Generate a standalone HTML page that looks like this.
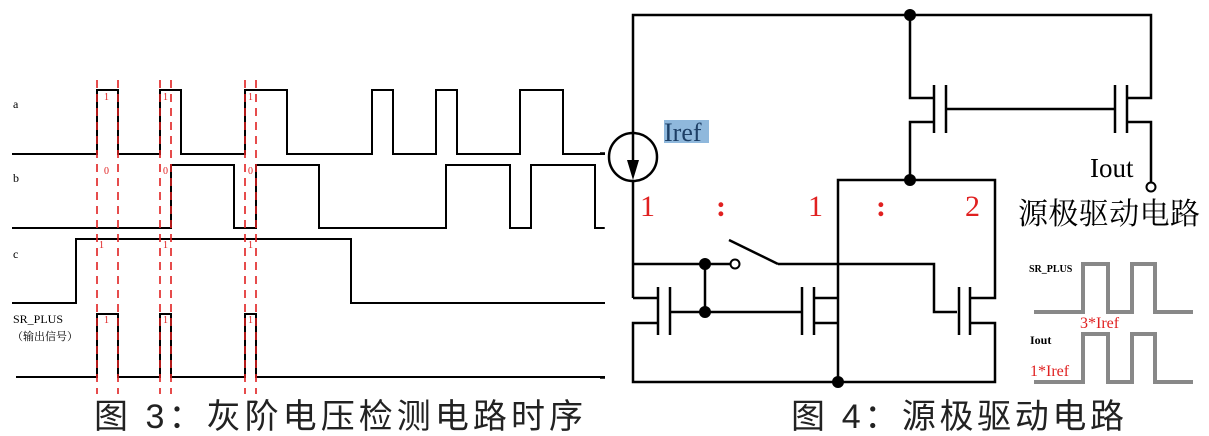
<!DOCTYPE html>
<html><head><meta charset="utf-8"><style>
html,body{margin:0;padding:0;background:#fff;width:1209px;height:436px;overflow:hidden}
svg{display:block}
.s{font-family:"Liberation Serif","Noto Serif CJK SC",serif}
.k{font-family:"Liberation Sans","Noto Sans CJK SC",sans-serif}
</style></head><body>
<svg width="1209" height="436" viewBox="0 0 1209 436" xmlns="http://www.w3.org/2000/svg">
<g fill="none" stroke="#000" stroke-width="2">
<polyline points="12,154 97,154 97,90 118,90 118,154 160,154 160,90 181,90 181,154 245,154 245,90 287,90 287,154 372,154 372,90 393,90 393,154 436,154 436,90 457,90 457,154 520,154 520,90 563,90 563,154 605,154"/>
<polyline points="12,228 171,228 171,165 234,165 234,228 256,228 256,165 319,165 319,228 446,228 446,165 510,165 510,228 531,228 531,165 595,165 595,228 604,228"/>
<polyline points="12,303 76,303 76,239 351,239 351,303 605,303"/>
<polyline points="16,377 97,377 97,314 118,314 118,377 160,377 160,314 171,314 171,377 245,377 245,314 256,314 256,377 605,377"/>
</g>
<g stroke="#e02020" stroke-width="1.6" stroke-dasharray="8,6">
<line x1="97" y1="80" x2="97" y2="394"/><line x1="118" y1="80" x2="118" y2="394"/>
<line x1="160" y1="80" x2="160" y2="394"/><line x1="171" y1="80" x2="171" y2="394"/>
<line x1="245" y1="80" x2="245" y2="394"/><line x1="256" y1="80" x2="256" y2="394"/>
</g>
<g class="s" fill="#e02020" font-size="10">
<text x="104" y="100">1</text><text x="163" y="100">1</text><text x="248" y="100">1</text>
<text x="104" y="174">0</text><text x="163" y="174">0</text><text x="248" y="174">0</text>
<text x="99" y="248">1</text><text x="163" y="248">1</text><text x="248" y="248">1</text>
<text x="104" y="323">1</text><text x="163" y="323">1</text><text x="248" y="323">1</text>
</g>
<g class="s" font-size="12" fill="#000">
<text x="13" y="108">a</text><text x="13" y="182">b</text><text x="13" y="258">c</text>
<text x="13" y="323">SR_PLUS</text><text x="12" y="340" font-size="11">（输出信号）</text>
</g>
<g fill="none" stroke="#000" stroke-width="2.5">
<polyline points="633,298 633,15 1151,15 1151,98 1127,98"/>
<polyline points="1127,122 1151,122 1151,182"/>
<polyline points="910,15 910,98 934,98"/>
<polyline points="934,122 910,122 910,180"/>
<line x1="934" y1="85" x2="934" y2="133"/><line x1="946" y1="85" x2="946" y2="133"/>
<line x1="1115" y1="85" x2="1115" y2="133"/><line x1="1127" y1="85" x2="1127" y2="133"/>
<line x1="946" y1="109" x2="1115" y2="109"/>
<polyline points="838,382 838,180 995,180 995,298 970,298"/>
<polyline points="970,323 995,323 995,382 633,382 633,323 657,323"/>
<line x1="633" y1="298" x2="657" y2="298"/>
<line x1="658" y1="287" x2="658" y2="335"/><line x1="670" y1="287" x2="670" y2="335"/>
<line x1="802" y1="287" x2="802" y2="335"/><line x1="814" y1="287" x2="814" y2="335"/>
<line x1="959" y1="287" x2="959" y2="335"/><line x1="970" y1="287" x2="970" y2="335"/>
<line x1="814" y1="298" x2="838" y2="298"/><line x1="814" y1="323" x2="838" y2="323"/>
<line x1="670" y1="312" x2="801" y2="312"/>
<line x1="705" y1="264" x2="705" y2="312"/>
<line x1="633" y1="264" x2="731" y2="264"/>
<line x1="729" y1="240" x2="778" y2="264"/>
<polyline points="778,264 934,264 934,312 957,312"/>
</g>
<circle cx="633" cy="157" r="24" fill="#fff" stroke="#000" stroke-width="2.5"/>
<line x1="633" y1="133" x2="633" y2="170" stroke="#000" stroke-width="2.5"/>
<polygon points="627,160 639,160 633,180" fill="#000"/>
<circle cx="735" cy="264" r="4.5" fill="#fff" stroke="#000" stroke-width="2"/>
<circle cx="1151" cy="187" r="4.5" fill="#fff" stroke="#000" stroke-width="2"/>
<g fill="#000"><circle cx="910" cy="15" r="6"/><circle cx="910" cy="180" r="6"/><circle cx="705" cy="264" r="6"/><circle cx="705" cy="312" r="6"/><circle cx="838" cy="382" r="6"/></g>
<g stroke="#000" stroke-width="1.5"><line x1="600" y1="153" x2="605" y2="153"/><line x1="600" y1="228" x2="605" y2="228"/><line x1="600" y1="303" x2="605" y2="303"/><line x1="600" y1="378" x2="605" y2="378"/></g>
<rect x="664" y="120" width="45" height="23" fill="#8fb8dc"/>
<text class="s" x="664" y="141" font-size="26" fill="#1d3f66">Iref</text>
<text class="s" x="1090" y="177" font-size="27" fill="#000">Iout</text>
<text class="s" x="1018" y="224" font-size="30" fill="#000" textLength="182">源极驱动电路</text>
<g class="s" fill="#e02020" font-size="30">
<text x="640" y="216">1</text><text x="716" y="216" font-weight="bold">:</text><text x="808" y="216">1</text><text x="876" y="216" font-weight="bold">:</text><text x="965" y="216">2</text>
</g>
<g fill="none" stroke="#888" stroke-width="4">
<polyline points="1034,312 1083,312 1083,264 1108,264 1108,312 1132,312 1132,264 1155,264 1155,312 1193,312"/>
<polyline points="1034,382 1083,382 1083,334 1108,334 1108,382 1132,382 1132,334 1155,334 1155,382 1193,382"/>
</g>
<text class="s" x="1029" y="272" font-size="10" font-weight="bold">SR_PLUS</text>
<text class="s" x="1030" y="344" font-size="12" font-weight="bold">Iout</text>
<text class="s" x="1080" y="328" font-size="16" fill="#e02020">3*Iref</text>
<text class="s" x="1030" y="376" font-size="16" fill="#e02020">1*Iref</text>
<text class="k" x="94" y="428" font-size="34" fill="#222" textLength="489">图 3：灰阶电压检测电路时序</text>
<text class="k" x="791" y="428" font-size="34" fill="#222" textLength="333">图 4：源极驱动电路</text>
</svg>
</body></html>
